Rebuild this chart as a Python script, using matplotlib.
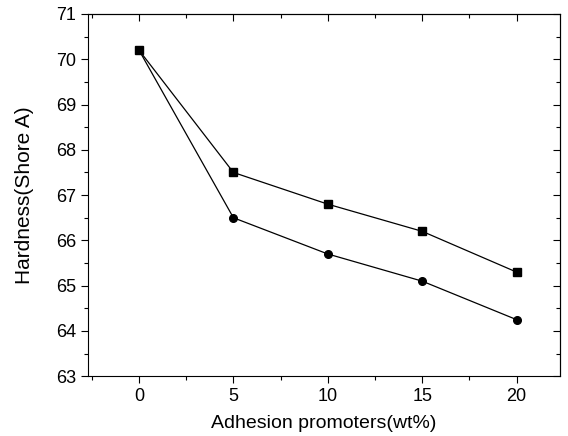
import matplotlib
matplotlib.use('Agg')
import matplotlib.pyplot as plt
from matplotlib.ticker import MultipleLocator

plt.rcParams['font.family'] = ['Liberation Sans', 'DejaVu Sans']

# данные
promoter = [0, 5, 10, 15, 20]
hardness_sq = [70.2, 67.5, 66.8, 66.2, 65.3]
hardness_circ = [70.2, 66.5, 65.7, 65.1, 64.25]

fig = plt.figure(figsize=(5.68, 4.36), dpi=100)
ax = fig.add_axes([0.155, 0.137, 0.831, 0.831])

ax.plot(promoter, hardness_sq, 'k-', marker='s', markersize=5.5, linewidth=0.9)
ax.plot(promoter, hardness_circ, 'k-', marker='o', markersize=5.5, linewidth=0.9)

ax.set_xlim(-2.7, 22.3)
ax.set_ylim(63, 71)
ax.xaxis.set_major_locator(MultipleLocator(5))
ax.xaxis.set_minor_locator(MultipleLocator(2.5))
ax.yaxis.set_major_locator(MultipleLocator(1))
ax.yaxis.set_minor_locator(MultipleLocator(0.5))

ax.tick_params(which='both', direction='out', labelsize=13, width=0.8)
ax.tick_params(which='major', length=5)
ax.tick_params(which='minor', length=3)

# зеркальные засечки сверху и справа, внутрь
top = ax.secondary_xaxis('top')
top.set_xticks(promoter)
top.xaxis.set_minor_locator(MultipleLocator(2.5))
top.tick_params(which='both', direction='in', labeltop=False, width=0.8)
top.tick_params(which='major', length=5)
top.tick_params(which='minor', length=3)
right = ax.secondary_yaxis('right')
right.yaxis.set_major_locator(MultipleLocator(1))
right.yaxis.set_minor_locator(MultipleLocator(0.5))
right.tick_params(which='both', direction='in', labelright=False, width=0.8)
right.tick_params(which='major', length=5)
right.tick_params(which='minor', length=3)

for s in ax.spines.values():
    s.set_linewidth(0.8)

ax.set_xlabel('Adhesion promoters(wt%)', fontsize=14, labelpad=7)
ax.set_ylabel('Hardness(Shore A)', fontsize=15, labelpad=16)

fig.savefig('out.png', dpi=100)
